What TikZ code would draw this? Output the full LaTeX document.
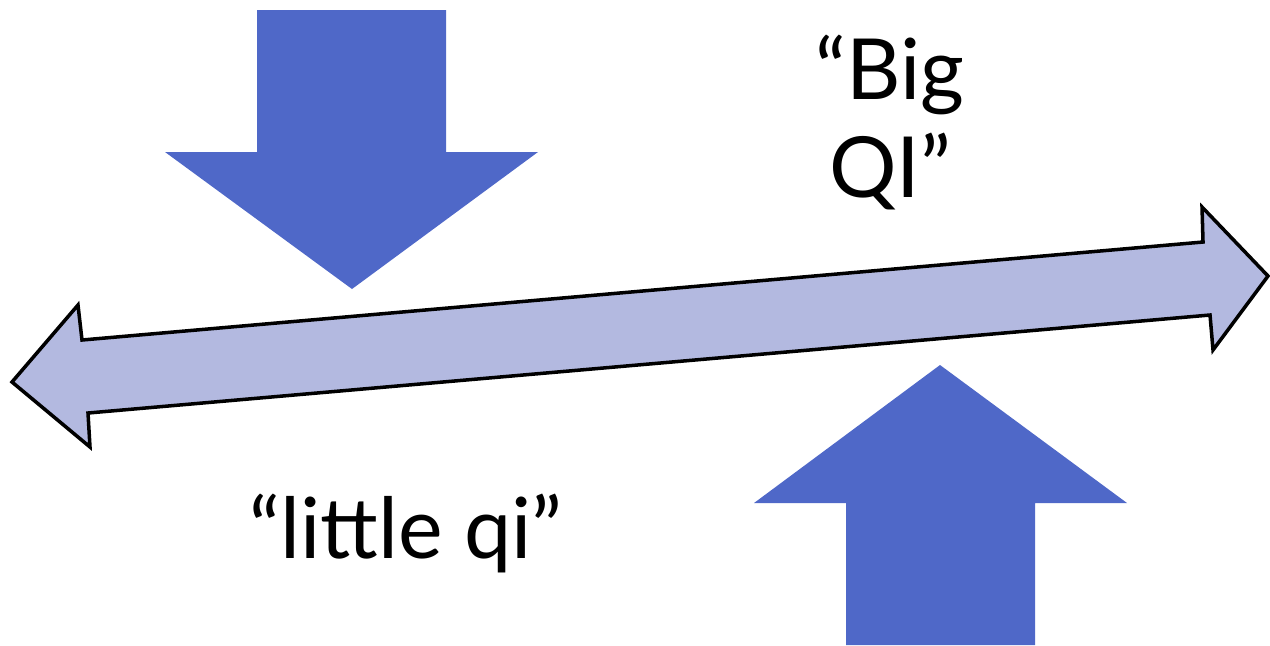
\documentclass[tikz,border=0pt]{standalone}
\usepackage{fontspec}
\setmainfont{Lato}
\usepackage{xcolor}
\definecolor{qiblue}{HTML}{4F68C8}
\definecolor{qilight}{HTML}{B3B9E0}
\usepackage{tikz}
\usetikzlibrary{positioning}

\begin{document}
\begin{tikzpicture}[
  x=0.1mm, y=-0.1mm,
  push/.style={
    fill=qiblue, draw=none,
  },
  spanarrow/.style={
    fill=qilight, draw=black, line width=1pt, line join=miter,
  },
  lbl/.style={
    font=\fontsize{24}{28}\selectfont, text=black, anchor=base, inner sep=0pt,
  },
]
  \useasboundingbox (0,0) rectangle (1270,645);

  % Pushing arrows
  \fill[push] (257,10) -- (446,10) -- (446,152) -- (538,152) -- (352,289)
    -- (165,152) -- (257,152) -- cycle;
  \fill[push] (846,645) -- (1035,645) -- (1035,503) -- (1127,503) -- (940,365)
    -- (754,503) -- (846,503) -- cycle;

  % Double arrow
  \draw[spanarrow] (12,382) -- (78,305) -- (82,340) -- (1203,242) -- (1202,207)
    -- (1268,276) -- (1213,350) -- (1210,315) -- (88,413) -- (90,447) -- cycle;

  % Labels
  \node[lbl] (big) at (890,99) {“Big};
  \node[lbl] (qi) at (890,197) {QI”};
  \node[lbl] (little) at (406,558) {“little qi”};
\end{tikzpicture}
\end{document}
